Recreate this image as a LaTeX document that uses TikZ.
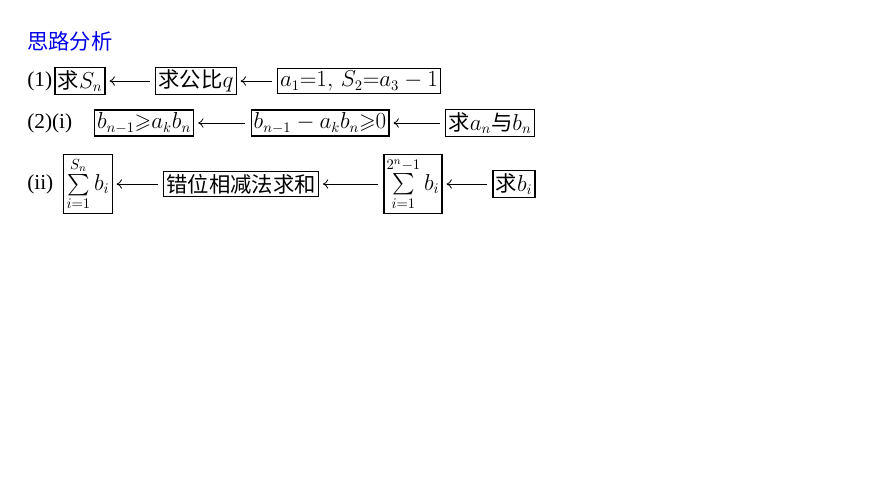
\documentclass[tikz,border=0pt]{standalone}
\usepackage{amssymb}
\usepackage{fontspec}
\setmainfont{Liberation Serif}
\newfontfamily\cjk{Noto Sans CJK SC}
\usetikzlibrary{arrows.meta, positioning}

\begin{document}
\begin{tikzpicture}[
    x=0.75pt, y=-0.75pt,
    stepbox/.style={rectangle, draw, thick, inner sep=2pt, font=\fontsize{16}{18}\selectfont},
    lbl/.style={inner sep=0pt, font=\fontsize{16}{18}\selectfont},
    arrow/.style={-{To[length=4pt,width=7pt]}, semithick, shorten <=4pt, shorten >=3pt}
]
\useasboundingbox (0,0) rectangle (870,489);

% Title
\node[lbl, anchor=west, text=blue!90!black] (title) at (27,41) {\cjk 思路分析};

% Row (1)
\node[lbl, anchor=west] (r1) at (27,81) {(1)};
\node[stepbox] (sn) at (80,81) {{\cjk 求}$S_n$};
\node[stepbox] (ratio) at (196,81) {{\cjk 求公比}$q$};
\node[stepbox] (given) at (359,81) {$a_1{=}1,\,S_2{=}a_3-1$};

% Row (2)(i)
\node[lbl, anchor=west] (r2) at (27,123) {(2)(i)};
\node[stepbox] (ineq) at (144,123) {$b_{n-1}{\geqslant}a_kb_n$};
\node[stepbox] (diff) at (320,123) {$b_{n-1}-a_kb_n{\geqslant}0$};
\node[stepbox] (anbn) at (490,123) {{\cjk 求}$a_n${\cjk 与}$b_n$};

% Row (ii)
\node[lbl, anchor=west] (r3) at (27,184) {(ii)};
\node[stepbox] (sumS) at (88,184) {$\sum\limits_{i=1}^{S_n}b_i$};
\node[stepbox] (shift) at (241,184) {\cjk 错位相减法求和};
\node[stepbox] (sumB) at (413,184) {$\sum\limits_{i=1}^{2^n-1}b_i$};
\node[stepbox] (bi) at (514,184) {{\cjk 求}$b_i$};

% Arrows
\draw[arrow] (ratio) -- (sn);
\draw[arrow] (given) -- (ratio);
\draw[arrow] (diff) -- (ineq);
\draw[arrow] (anbn) -- (diff);
\draw[arrow] (shift) -- (sumS);
\draw[arrow] (sumB) -- (shift);
\draw[arrow] (bi) -- (sumB);
\end{tikzpicture}
\end{document}
